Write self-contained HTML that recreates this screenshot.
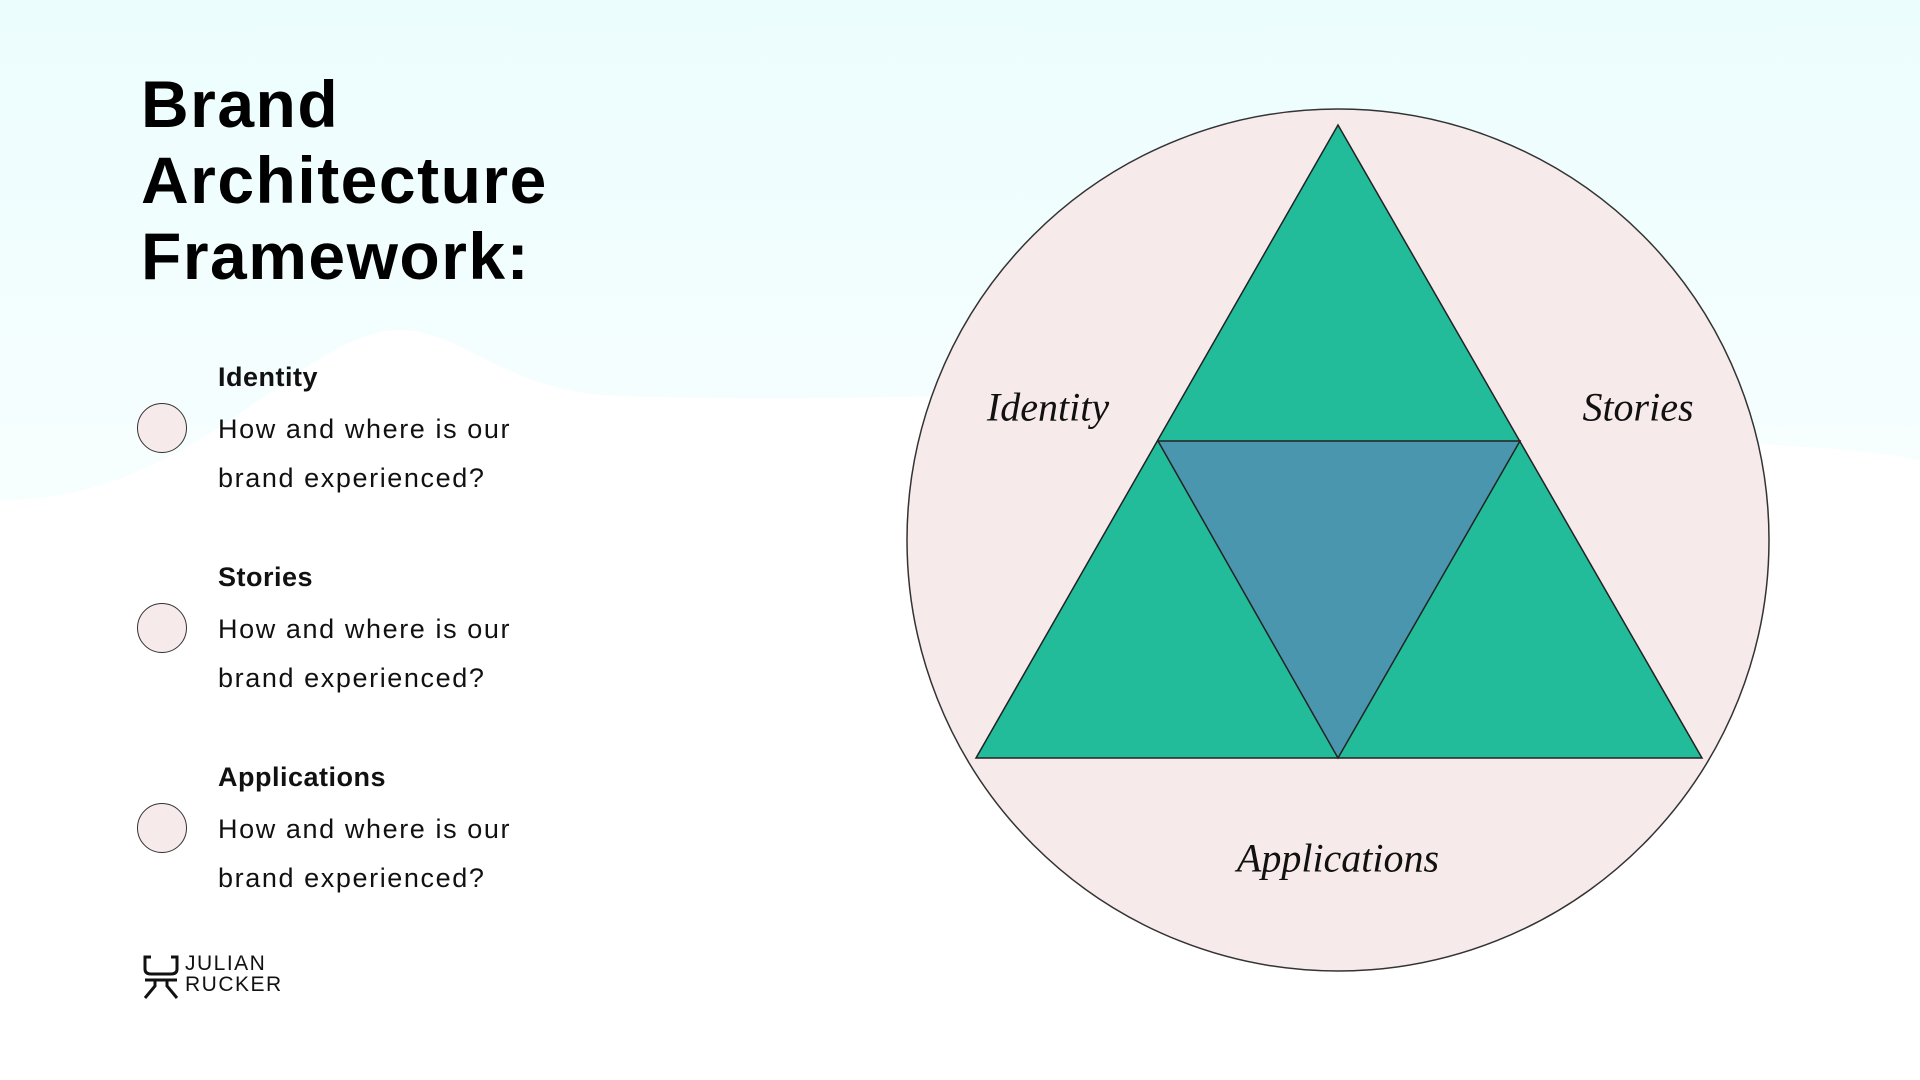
<!DOCTYPE html>
<html><head><meta charset="utf-8"><style>
body{margin:0;width:1920px;height:1080px;overflow:hidden;background:#fff;font-family:"Liberation Sans",sans-serif;position:relative}
.t{position:absolute;left:141px;top:66px;font-size:66px;font-weight:bold;line-height:76px;color:#000;letter-spacing:1.5px}
.h{position:absolute;left:218px;font-size:27px;font-weight:bold;color:#111;letter-spacing:0.5px}
.d{position:absolute;left:218px;font-size:27px;line-height:49px;color:#111;letter-spacing:1.6px}
.c{position:absolute;left:137px;width:50px;height:50px;border-radius:50%;background:#f6eaea;border:1.5px solid #333;box-sizing:border-box}
.lab{position:absolute;font-family:"Liberation Serif",serif;font-style:italic;font-size:40px;transform:translate(-50%,-50%);color:#111}
</style></head><body>
<svg width="1920" height="1080" style="position:absolute;left:0;top:0">
<defs><linearGradient id="g" x1="0" y1="0" x2="0" y2="1"><stop offset="0" stop-color="#ecfdfe"/><stop offset="1" stop-color="#f7fefe"/></linearGradient></defs>
<path d="M0 0H1920V460C1820 440 1700 450 1600 420C1450 380 1300 380 1100 390C900 400 700 400 600 395C500 385 460 330 400 330C300 330 200 500 0 500Z" fill="url(#g)"/>
<circle cx="1338" cy="540" r="431" fill="#f6eaea" stroke="#333" stroke-width="1.5"/>
<polygon points="1338,125 1702,758 976,758" fill="#22bc9a" stroke="#222" stroke-width="1.5"/>
<polygon points="1158,441 1520,441 1338,758" fill="#4a96ae" stroke="#222" stroke-width="1.5"/>
</svg>
<div class="t">Brand<br>Architecture<br>Framework:</div>
<div class="h" style="top:362px">Identity</div>
<div class="d" style="top:405px">How and where is our<br>brand experienced?</div>
<div class="c" style="top:403px"></div>
<div class="h" style="top:562px">Stories</div>
<div class="d" style="top:605px">How and where is our<br>brand experienced?</div>
<div class="c" style="top:603px"></div>
<div class="h" style="top:762px">Applications</div>
<div class="d" style="top:805px">How and where is our<br>brand experienced?</div>
<div class="c" style="top:803px"></div>
<div class="lab" style="left:1048px;top:407px">Identity</div>
<div class="lab" style="left:1638px;top:407px">Stories</div>
<div class="lab" style="left:1338px;top:858px">Applications</div>
<svg width="40" height="46" style="position:absolute;left:141px;top:954px" fill="none" stroke="#111" stroke-width="3">
<path d="M10 3H4V15Q4 20 10 20H30Q36 20 36 15V3H30"/><path d="M4 26H36M14 26V32L4 44M26 26V32L36 44"/></svg>
<div style="position:absolute;left:185px;top:953px;font-size:21px;line-height:21px;letter-spacing:1.5px;color:#111">JULIAN<br>RUCKER</div>
</body></html>
